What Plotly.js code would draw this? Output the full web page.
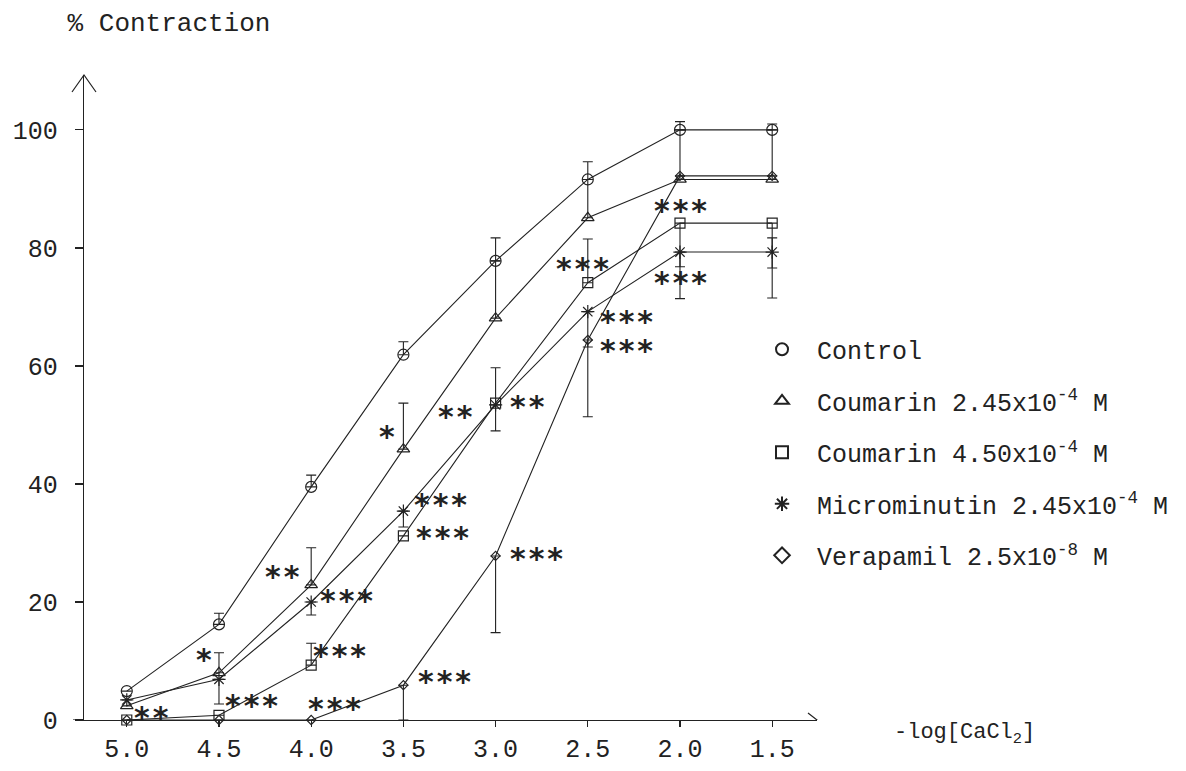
<!DOCTYPE html>
<html>
<head>
<meta charset="utf-8">
<script src="https://cdn.plot.ly/plotly-3.0.1.min.js"></script>
<style>
html,body{margin:0;padding:0;background:#fff;}
#chart{width:1186px;height:771px;}
</style>
</head>
<body>
<div id="chart"></div>
<script>
// -log[CaCl2] levels
const logCa = [5.0, 4.5, 4.0, 3.5, 3.0, 2.5, 2.0, 1.5];
const xTickVals = [5.0, 4.5, 4.0, 3.5, 3.0, 2.5, 2.0, 1.5];
const xTickText = ['5.0', '4.5', '4.0', '3.5', '3.0', '2.5', '2.0', '1.5'];
const yTickVals = [0, 20, 40, 60, 80, 100];

// % contraction, with upward / downward error bars
const control      = [4.9, 16.2, 39.5, 61.9, 77.8, 91.6, 100, 100];
const controlUp    = [0, 1.9, 2.0, 2.2, 3.9, 3.0, 1.4, 1.0];
const controlDown  = [0, 0, 0, 0, 0, 0, 0, 0];

const cou245       = [2.4, 8.0, 22.9, 45.9, 68.1, 85.1, 91.6, 91.6];
const cou245Up     = [0, 3.4, 6.3, 7.8, 9.7, 6.5, 8.4, 8.4];
const cou245Down   = [0, 0, 0, 0, 0, 0, 0, 0];

const cou450       = [0, 0.8, 9.3, 31.2, 53.7, 74.1, 84.2, 84.2];
const cou450Up     = [0, 0, 3.7, 0, 6.0, 7.4, 0, 0];
const cou450Down   = [0, 0, 0, 0, 4.7, 0, 7.4, 7.6];

const micro        = [3.4, 6.9, 20.0, 35.4, 53.4, 69.2, 79.3, 79.3];
const microUp      = [0, 0, 0, 0, 0, 0, 0, 2.4];
const microDown    = [0, 4.2, 2.2, 2.7, 0, 6.0, 7.9, 7.8];

const verapamil    = [0, 0, 0, 5.9, 27.8, 64.4, 92.2, 92.2];
const veraUp       = [0, 0, 0, 0, 0, 0, 0, 0];
const veraDown     = [0, 0, 0, 5.9, 13.0, 13.0, 0, 0];

const seriesNames = [
  'Control',
  'Coumarin 2.45x10<sup>-4</sup> M',
  'Coumarin 4.50x10<sup>-4</sup> M',
  'Microminutin 2.45x10<sup>-4</sup> M',
  'Verapamil 2.5x10<sup>-8</sup> M'
];
const seriesSymbols = ['circle-open', 'triangle-up-open', 'square-open', 'asterisk-open', 'diamond-open'];

// significance labels: [x, y, text]
const sigX    = [4.865, 4.579, 4.325, 4.157, 3.806, 3.844, 3.871, 3.59, 3.217, 3.298, 3.287, 3.277, 2.828, 2.780, 2.531, 2.288, 2.288, 1.996, 1.996];
const sigY    = [0.85, 10.7, 3.05, 24.9, 20.7, 11.5, 2.5, 48.6, 52.0, 37.1, 31.5, 7.1, 53.7, 27.8, 77.1, 68.1, 63.2, 86.9, 74.6];
const sigText = ['**', '*', '***', '**', '***', '***', '***', '*', '**', '***', '***', '***', '**', '***', '***', '***', '***', '***', '***'];

const INK = '#222';
const MONO = 'Liberation Mono, Courier New, monospace';
const HAIR = '\u200A';

const ys = [control, cou245, cou450, micro, verapamil];
const ups = [controlUp, cou245Up, cou450Up, microUp, veraUp];
const downs = [controlDown, cou245Down, cou450Down, microDown, veraDown];
const sizes = [11, 11, 10, 11, 7];

const traces = [];
ys.forEach((y, i) => {
  traces.push({
    x: logCa, y: y, type: 'scatter', mode: 'lines+markers',
    showlegend: false, cliponaxis: false,
    line: {color: INK, width: 1.1},
    marker: {symbol: seriesSymbols[i], size: sizes[i], color: INK, line: {color: INK, width: 1.2}},
    error_y: {type: 'data', symmetric: false, array: ups[i], arrayminus: downs[i],
              color: INK, thickness: 1.1, width: 5}
  });
});
// legend-only entries (markers only)
seriesNames.forEach((n, i) => {
  traces.push({
    x: [null], y: [null], type: 'scatter', mode: 'markers', name: '\u00A0' + n,
    legendgroup: 'g' + i,
    marker: {symbol: seriesSymbols[i], size: 12, color: INK, line: {color: INK, width: 1.2}}
  });
});

const annotations = sigX.map((x, i) => ({
  x: x, y: sigY[i], xref: 'x', yref: 'y', text: sigText[i].split('').join(HAIR), showarrow: false,
  xanchor: 'center', yanchor: 'middle', yshift: -3,
  font: {family: 'DejaVu Sans', size: 30, color: INK, weight: 'bold'}
}));
annotations.push({
  xref: 'paper', yref: 'paper', x: 1.102, y: -0.022, xanchor: 'left', yanchor: 'middle',
  text: '-log[CaCl<sub>2</sub>]', showarrow: false,
  font: {family: MONO, size: 22, color: INK}
});

const shapes = [
  // y axis arrow head
  {type: 'path', xref: 'paper', yref: 'paper', xsizemode: 'pixel', ysizemode: 'pixel',
   xanchor: 0, yanchor: 1, path: 'M-12,-17 L0,0 L12,-17', line: {color: INK, width: 1.2}},
  // x axis arrow head
  {type: 'path', xref: 'paper', yref: 'y', xsizemode: 'pixel', ysizemode: 'pixel',
   xanchor: 1, yanchor: 0, path: 'M-9,7 L0,0 L-9,-7', line: {color: INK, width: 1.2}},
  // x axis stub left of y axis
  {type: 'line', xref: 'paper', yref: 'y', xsizemode: 'pixel', xanchor: 0,
   x0: -11, x1: 0, y0: 0, y1: 0, line: {color: INK, width: 1.2}}
];

const layout = {
  width: 1186, height: 771,
  paper_bgcolor: '#fff', plot_bgcolor: 'rgba(0,0,0,0)',
  margin: {l: 84, r: 366, t: 75, b: 51, pad: 0},
  font: {family: MONO, color: INK, size: 25},
  title: {text: '% Contraction', xref: 'container', yref: 'container',
          x: 0.057, xanchor: 'left', y: 0.971, yanchor: 'middle',
          font: {family: MONO, size: 26, color: INK}},
  xaxis: {range: [5.232, 1.257], tickmode: 'array', tickvals: xTickVals, ticktext: xTickText,
          showgrid: false, zeroline: false, showline: true, linecolor: INK, linewidth: 1.2,
          ticks: 'outside', ticklen: 6, tickcolor: INK, tickwidth: 1.2,
          ticklabelstandoff: 0, tickfont: {family: MONO, size: 25, color: INK}},
  yaxis: {range: [0, 109.3], tickmode: 'array', tickvals: yTickVals,
          showgrid: false, zeroline: false, showline: true, linecolor: INK, linewidth: 1.2,
          ticks: 'outside', ticklen: 8, tickcolor: INK, tickwidth: 1.2,
          ticklabelstandoff: 12, tickfont: {family: MONO, size: 25, color: INK}},
  showlegend: true,
  legend: {x: 0.925, y: 0.61, xanchor: 'left', yanchor: 'top', bgcolor: 'rgba(0,0,0,0)',
           font: {family: MONO, size: 25, color: INK}, tracegroupgap: 16,
           traceorder: 'grouped', itemsizing: 'constant'},
  annotations: annotations,
  shapes: shapes
};

Plotly.newPlot('chart', traces, layout, {staticPlot: true});
</script>
</body>
</html>
